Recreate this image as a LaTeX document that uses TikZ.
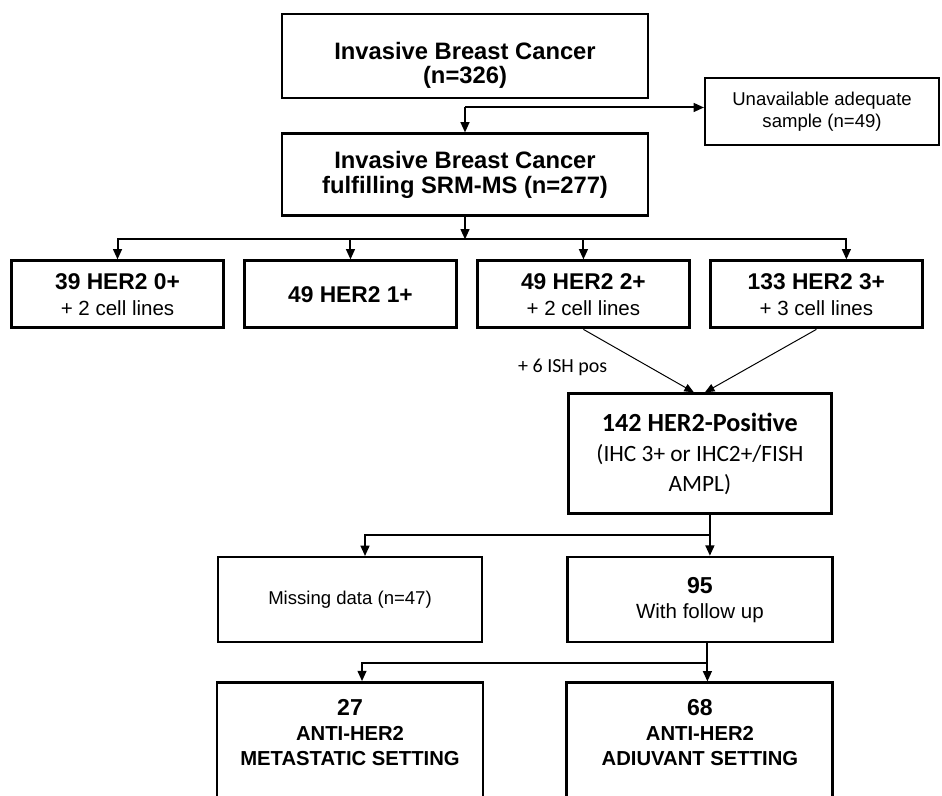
\documentclass[tikz,border=0pt]{standalone}
\usepackage{fontspec}
\setmainfont{Liberation Sans}
\newfontfamily\calibri{Carlito}
\usepackage{tikz}
\usetikzlibrary{arrows.meta,positioning,calc}

\begin{document}
\begin{tikzpicture}[
    headbox/.style={rectangle, draw, line width=2.1pt, align=center, inner sep=2pt, minimum width=9.15cm, font=\bfseries\fontsize{16.9}{17.2}\selectfont},
    sidebox/.style={rectangle, draw, line width=1.5pt, align=center, inner sep=2pt, font=\fontsize{13.2}{15.4}\selectfont},
    herbox/.style={rectangle, draw, line width=2.1pt, align=center, inner sep=2pt, minimum width=5.3cm, minimum height=1.675cm, font=\fontsize{14.6}{18.5}\selectfont},
    posbox/.style={rectangle, draw, line width=1.7pt, align=center, inner sep=2pt, minimum width=6.575cm, minimum height=3cm, font=\calibri\fontsize{16.6}{21.3}\selectfont},
    followbox/.style={rectangle, draw, line width=1.9pt, align=center, inner sep=2pt, minimum width=6.625cm, minimum height=2.125cm, font=\fontsize{14.6}{17.8}\selectfont},
    therapybox/.style={rectangle, draw, line width=2.1pt, align=center, inner sep=2pt, minimum width=6.65cm, minimum height=3.125cm, font=\bfseries\fontsize{14.4}{17.8}\selectfont},
    ishlabel/.style={inner sep=0pt, font=\calibri\fontsize{14.2}{16}\selectfont},
    arrow/.style={line width=1.4pt, -{Triangle[length=0.26cm,width=0.22cm]}},
    thinarrow/.style={line width=0.7pt, -{Triangle[length=0.24cm,width=0.2cm]}}
]
\useasboundingbox (0,0) rectangle (23.55,-19.875);

% Starting cohort (top)
\node[headbox, minimum height=2.1cm] (invasive) at (11.625,-1.4) {\rule{0pt}{26pt}Invasive Breast Cancer\\(n=326)};
\coordinate[below=0.2cm of invasive] (split1);
\node[sidebox, minimum width=5.85cm, minimum height=1.675cm, right=5.975cm of split1, yshift=-0.1cm] (unavail) {Unavailable adequate\\sample (n=49)};
\node[headbox, minimum height=2.05cm, below=0.625cm of split1] (srm) {Invasive Breast Cancer\\fulfilling SRM-MS (n=277)};

% HER2 score row
\coordinate[below=0.55cm of srm] (split2);
\node[herbox, below left=0.5cm and 6cm of split2] (her0) {{\bfseries\fontsize{16.2}{18.5}\selectfont 39 HER2 0+}\\+ 2 cell lines};
\node[herbox, right=0.45cm of her0] (her1) {\bfseries\fontsize{16.2}{18.5}\selectfont 49 HER2 1+};
\node[herbox, right=0.45cm of her1] (her2) {{\bfseries\fontsize{16.2}{18.5}\selectfont 49 HER2 2+}\\+ 2 cell lines};
\node[herbox, right=0.45cm of her2] (her3) {{\bfseries\fontsize{16.2}{18.5}\selectfont 133 HER2 3+}\\+ 3 cell lines};

% HER2-positive group
\coordinate (mid23) at ($(her2.south)!0.5!(her3.south)$);
\node[posbox, below=1.575cm of mid23] (pos) {{\bfseries\fontsize{18.6}{21.3}\selectfont 142 HER2-Positive}\\(IHC 3+ or IHC2+/FISH\\AMPL)};

% Follow up row
\node[followbox, below=1.025cm of pos] (fup) {{\bfseries\fontsize{16.4}{17.8}\selectfont 95}\\With follow up};
\node[sidebox, minimum width=6.6cm, minimum height=2.125cm, left=2.075cm of fup] (missing) {Missing data (n=47)};

% Therapy setting (bottom)
\node[therapybox, below=0.95cm of missing] (meta) {{\fontsize{16.4}{17.8}\selectfont 27}\\ANTI-HER2\\METASTATIC SETTING\\\mbox{}};
\node[therapybox, below=0.95cm of fup] (adj) {{\fontsize{16.4}{17.8}\selectfont 68}\\ANTI-HER2\\ADIUVANT SETTING\\\mbox{}};

% Arrows
\draw[arrow] (split1) -- (srm);
\draw[arrow] (split1) -- (split1 -| unavail.west);
\draw[arrow] (srm) -- (split2);
\draw[arrow] (split2) -| (her0);
\draw[arrow] (split2) -| (her1);
\draw[arrow] (split2) -| (her2);
\draw[arrow] (split2) -| ([xshift=0.75cm]her3.north);
\draw[thinarrow] (her2.south) -- node[ishlabel, pos=0.6, left=1.05cm] (ishpos) {+ 6 ISH pos} ([xshift=-0.15cm]pos.north);
\draw[thinarrow] (her3.south) -- ([xshift=0.125cm]pos.north);
\coordinate (split3) at ([xshift=0.25cm,yshift=-0.5cm]pos.south);
\draw[arrow] ([xshift=0.25cm]pos.south) -- (split3 |- fup.north);
\draw[arrow] (split3) -| ([xshift=0.375cm]missing.north);
\coordinate (split4) at ([xshift=0.1875cm,yshift=-0.5cm]fup.south);
\draw[arrow] ([xshift=0.1875cm]fup.south) -- (split4 |- adj.north);
\draw[arrow] (split4) -| ([xshift=0.3cm]meta.north);

\end{tikzpicture}
\end{document}
